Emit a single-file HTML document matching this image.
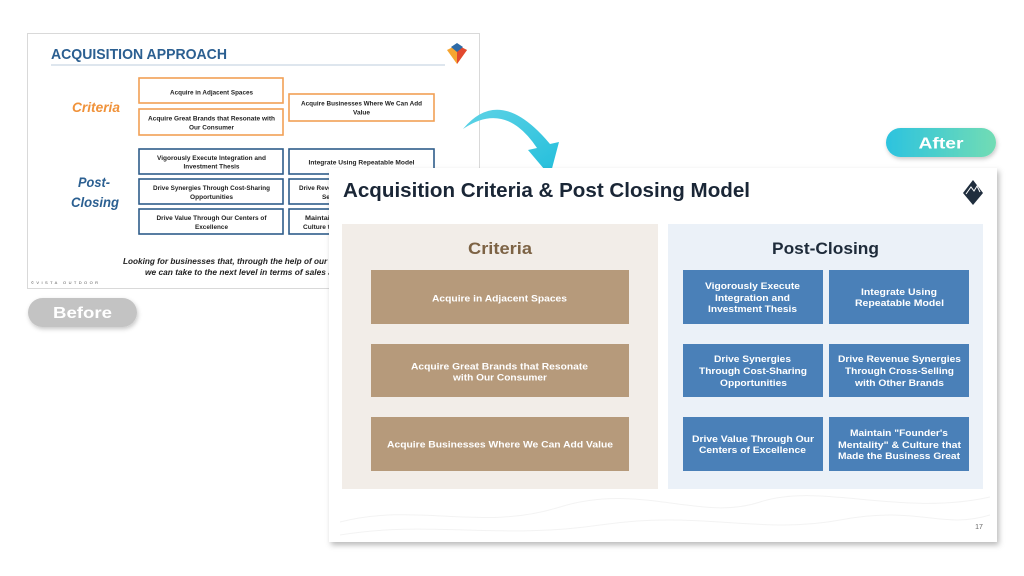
<!DOCTYPE html>
<html><head><meta charset="utf-8"><style>
html,body{margin:0;padding:0;background:#fff;}
svg{display:block;}
text{font-family:"Liberation Sans",sans-serif;}
</style></head><body>
<svg width="1024" height="576" viewBox="0 0 1024 576" xmlns="http://www.w3.org/2000/svg">
<defs>
<filter id="sh" x="-10%" y="-10%" width="120%" height="125%">
<feDropShadow dx="2" dy="3" stdDeviation="3" flood-color="#000" flood-opacity="0.28"/>
</filter>
<filter id="sh2" x="-20%" y="-30%" width="140%" height="180%">
<feDropShadow dx="1" dy="2" stdDeviation="2" flood-color="#000" flood-opacity="0.22"/>
</filter>
<linearGradient id="pg" x1="0" y1="0" x2="1" y2="0">
<stop offset="0" stop-color="#2cc3df"/><stop offset="1" stop-color="#72dcb4"/>
</linearGradient>
<linearGradient id="ag" x1="0" y1="0" x2="1" y2="1">
<stop offset="0" stop-color="#5fd3e6"/><stop offset="1" stop-color="#22bedb"/>
</linearGradient>
</defs>

<!-- BEFORE SLIDE -->
<rect x="27.5" y="33.5" width="452" height="255" fill="#fff" stroke="#d9d9d9" stroke-width="1"/>
<text x="51" y="59" font-size="15" font-weight="bold" fill="#2b5f91" textLength="176" lengthAdjust="spacingAndGlyphs">ACQUISITION APPROACH</text>
<line x1="51" y1="65" x2="445" y2="65" stroke="#c9d6e3" stroke-width="1.2"/>
<polygon points="447,50 457,45 467,50 457,64" fill="#f6a530"/>
<polygon points="457,45 467,50 457,64" fill="#e2482f"/>
<polygon points="451,47 457,43 463,47 457,52" fill="#2e6aa6"/>

<text x="96" y="112" font-size="14" font-weight="bold" font-style="italic" fill="#f0923a" text-anchor="middle" textLength="48" lengthAdjust="spacingAndGlyphs">Criteria</text>
<text x="94" y="187" font-size="14" font-weight="bold" font-style="italic" fill="#2b5f91" text-anchor="middle" textLength="32" lengthAdjust="spacingAndGlyphs">Post-</text>
<text x="95" y="207" font-size="14" font-weight="bold" font-style="italic" fill="#2b5f91" text-anchor="middle" textLength="48" lengthAdjust="spacingAndGlyphs">Closing</text>

<g fill="#fff" stroke-width="1.6">
<rect x="139" y="78" width="144" height="25" stroke="#f2a055"/>
<rect x="139" y="109" width="144" height="26" stroke="#f2a055"/>
<rect x="289" y="94" width="145" height="27" stroke="#f2a055"/>
<rect x="139" y="149" width="144" height="25" stroke="#2f5d8a"/>
<rect x="289" y="149" width="145" height="25" stroke="#2f5d8a"/>
<rect x="139" y="179" width="144" height="25" stroke="#2f5d8a"/>
<rect x="289" y="179" width="145" height="25" stroke="#2f5d8a"/>
<rect x="139" y="209" width="144" height="25" stroke="#2f5d8a"/>
<rect x="289" y="209" width="145" height="25" stroke="#2f5d8a"/>
</g>
<g font-size="6.5" font-weight="bold" fill="#222" text-anchor="middle">
<text x="211.5" y="94.3" textLength="83" lengthAdjust="spacingAndGlyphs">Acquire in Adjacent Spaces</text>
<text x="211.5" y="120.3" textLength="127" lengthAdjust="spacingAndGlyphs">Acquire Great Brands that Resonate with</text>
<text x="211.5" y="129.3" textLength="45" lengthAdjust="spacingAndGlyphs">Our Consumer</text>
<text x="361.5" y="105.3" textLength="121" lengthAdjust="spacingAndGlyphs">Acquire Businesses Where We Can Add</text>
<text x="361.5" y="114.3" textLength="17" lengthAdjust="spacingAndGlyphs">Value</text>
<text x="211.5" y="159.8" textLength="109" lengthAdjust="spacingAndGlyphs">Vigorously Execute Integration and</text>
<text x="211.5" y="168.3" textLength="56" lengthAdjust="spacingAndGlyphs">Investment Thesis</text>
<text x="361.5" y="164.3" textLength="106" lengthAdjust="spacingAndGlyphs">Integrate Using Repeatable Model</text>
<text x="211.5" y="189.8" textLength="117" lengthAdjust="spacingAndGlyphs">Drive Synergies Through Cost-Sharing</text>
<text x="211.5" y="198.8" textLength="43" lengthAdjust="spacingAndGlyphs">Opportunities</text>
<text x="361.5" y="189.8" textLength="125" lengthAdjust="spacingAndGlyphs">Drive Revenue Synergies Through Cross-</text>
<text x="361.5" y="198.8" textLength="79" lengthAdjust="spacingAndGlyphs">Selling with Other Brands</text>
<text x="211.5" y="219.8" textLength="110" lengthAdjust="spacingAndGlyphs">Drive Value Through Our Centers of</text>
<text x="211.5" y="228.8" textLength="33" lengthAdjust="spacingAndGlyphs">Excellence</text>
<text x="361.5" y="219.8" textLength="113" lengthAdjust="spacingAndGlyphs">Maintain "Founder's Mentality" &amp;</text>
<text x="361.5" y="228.8" textLength="117" lengthAdjust="spacingAndGlyphs">Culture that Made the Business Great</text>
</g>
<text x="123" y="264" font-size="8.5" font-weight="bold" font-style="italic" fill="#222" textLength="294" lengthAdjust="spacingAndGlyphs">Looking for businesses that, through the help of our Centers of Excellence,</text>
<text x="145" y="275" font-size="8.5" font-weight="bold" font-style="italic" fill="#222" textLength="248" lengthAdjust="spacingAndGlyphs">we can take to the next level in terms of sales and profitability.</text>
<text x="31" y="284" font-size="4" fill="#555" textLength="67" lengthAdjust="spacing">©VISTA OUTDOOR</text>

<!-- Before pill -->
<rect x="28" y="298" width="109" height="29" rx="14.5" fill="#c3c3c3" filter="url(#sh2)"/>
<text x="82.5" y="318" font-size="16" font-weight="bold" fill="#fff" text-anchor="middle" textLength="59" lengthAdjust="spacingAndGlyphs">Before</text>

<!-- Arrow -->
<path d="M463,129 Q500,84 550,144 L559,142 L550,176 L528,150 L537,148 Q505,100 463,129 Z" fill="url(#ag)"/>

<!-- After pill -->
<rect x="886" y="128" width="110" height="29" rx="14.5" fill="url(#pg)" filter="url(#sh2)"/>
<text x="941" y="148.5" font-size="16" font-weight="bold" fill="#fff" text-anchor="middle" textLength="45" lengthAdjust="spacingAndGlyphs">After</text>

<!-- AFTER SLIDE -->
<rect x="329" y="168" width="668" height="374" fill="#fff" filter="url(#sh)"/>
<g fill="none" stroke="#f3f3f3" stroke-width="1">
<path d="M340,522 C420,502 480,532 560,507 S700,522 760,502 S900,517 990,497"/>
<path d="M340,535 C430,520 500,540 600,525 S760,535 840,520 S940,530 990,515"/>
</g>
<text x="343" y="197" font-size="20" font-weight="bold" fill="#1a2636" textLength="407" lengthAdjust="spacingAndGlyphs">Acquisition Criteria &amp; Post Closing Model</text>
<polygon points="973,180 983,193 973,205 963,193" fill="#1f2d3d"/>
<polyline points="966,194 971,187 974,191 977,186 980,192" fill="none" stroke="#fff" stroke-width="1"/>

<rect x="342" y="224" width="316" height="265" fill="#f2ede8"/>
<rect x="668" y="224" width="315" height="265" fill="#ebf1f8"/>
<text x="500" y="254" font-size="16.5" font-weight="bold" fill="#7d6345" text-anchor="middle" textLength="64" lengthAdjust="spacingAndGlyphs">Criteria</text>
<text x="825.5" y="254" font-size="16.5" font-weight="bold" fill="#1e2b3a" text-anchor="middle" textLength="107" lengthAdjust="spacingAndGlyphs">Post-Closing</text>

<g fill="#b69a7b">
<rect x="371" y="270" width="258" height="54"/>
<rect x="371" y="344" width="258" height="53"/>
<rect x="371" y="417" width="258" height="54"/>
</g>
<g fill="#4a80b8">
<rect x="683" y="270" width="140" height="54"/>
<rect x="829" y="270" width="140" height="54"/>
<rect x="683" y="344" width="140" height="53"/>
<rect x="829" y="344" width="140" height="53"/>
<rect x="683" y="417" width="140" height="54"/>
<rect x="829" y="417" width="140" height="54"/>
</g>
<g font-size="9.5" font-weight="bold" fill="#fff" text-anchor="middle">
<text x="499.5" y="301.3" textLength="135" lengthAdjust="spacingAndGlyphs">Acquire in Adjacent Spaces</text>
<text x="499.5" y="369.3" textLength="177" lengthAdjust="spacingAndGlyphs">Acquire Great Brands that Resonate</text>
<text x="500" y="380.3" textLength="94" lengthAdjust="spacingAndGlyphs">with Our Consumer</text>
<text x="500" y="447.3" textLength="226" lengthAdjust="spacingAndGlyphs">Acquire Businesses Where We Can Add Value</text>
</g>
<g font-size="9" font-weight="bold" fill="#fff" text-anchor="middle">
<text x="752.5" y="289.2" textLength="95" lengthAdjust="spacingAndGlyphs">Vigorously Execute</text>
<text x="752.5" y="301.2" textLength="75" lengthAdjust="spacingAndGlyphs">Integration and</text>
<text x="752.5" y="312.2" textLength="89" lengthAdjust="spacingAndGlyphs">Investment Thesis</text>
<text x="899" y="295.2" textLength="76" lengthAdjust="spacingAndGlyphs">Integrate Using</text>
<text x="899.5" y="306.2" textLength="89" lengthAdjust="spacingAndGlyphs">Repeatable Model</text>
<text x="752.5" y="362.2" textLength="77" lengthAdjust="spacingAndGlyphs">Drive Synergies</text>
<text x="753" y="374.2" textLength="108" lengthAdjust="spacingAndGlyphs">Through Cost-Sharing</text>
<text x="753.5" y="386.2" textLength="67" lengthAdjust="spacingAndGlyphs">Opportunities</text>
<text x="899.5" y="362.2" textLength="123" lengthAdjust="spacingAndGlyphs">Drive Revenue Synergies</text>
<text x="899.5" y="374.2" textLength="109" lengthAdjust="spacingAndGlyphs">Through Cross-Selling</text>
<text x="899.5" y="386.2" textLength="89" lengthAdjust="spacingAndGlyphs">with Other Brands</text>
<text x="753" y="442.2" textLength="122" lengthAdjust="spacingAndGlyphs">Drive Value Through Our</text>
<text x="752.5" y="453.2" textLength="107" lengthAdjust="spacingAndGlyphs">Centers of Excellence</text>
<text x="899" y="436.2" textLength="98" lengthAdjust="spacingAndGlyphs">Maintain "Founder's</text>
<text x="899.5" y="448.2" textLength="123" lengthAdjust="spacingAndGlyphs">Mentality" &amp; Culture that</text>
<text x="899" y="459.2" textLength="122" lengthAdjust="spacingAndGlyphs">Made the Business Great</text>
</g>
<text x="979" y="529" font-size="7" fill="#666" text-anchor="middle">17</text>
</svg>
</body></html>
